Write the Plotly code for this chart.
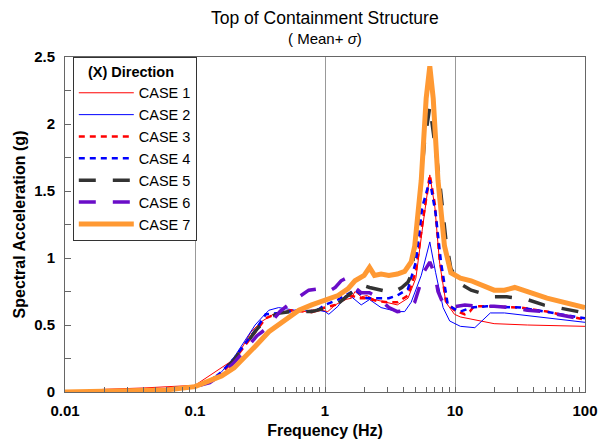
import plotly.graph_objects as go

# ---- data ----
case_names = ["CASE 1", "CASE 2", "CASE 3", "CASE 4", "CASE 5", "CASE 6", "CASE 7"]

f1 = [0.01, 0.02, 0.04, 0.07, 0.1, 0.19, 0.23, 0.27, 0.33, 0.4, 0.5, 0.63, 0.79, 0.94, 1.05, 1.2, 1.43, 1.6, 1.7, 1.9,
      2.1, 2.4, 2.9, 3.6, 4.35, 5.0, 5.6, 6.4, 7.0, 7.6, 8.5, 9.9, 11, 14.2, 20, 36, 60, 100]
a1 = [0.0, 0.02, 0.03, 0.04, 0.05, 0.23, 0.33, 0.45, 0.53, 0.58, 0.60, 0.61, 0.59, 0.61, 0.60, 0.65, 0.69, 0.70, 0.75, 0.71,
      0.72, 0.69, 0.67, 0.65, 0.70, 0.85, 1.21, 1.62, 1.38, 0.97, 0.67, 0.58, 0.56, 0.54, 0.51, 0.50, 0.495, 0.49]

f2 = [0.01, 0.03, 0.06, 0.1, 0.13, 0.16, 0.2, 0.25, 0.29, 0.33, 0.37, 0.44, 0.52, 0.59, 0.67, 0.75, 0.89, 1.0, 1.07, 1.26,
      1.43, 1.6, 1.9, 2.2, 2.7, 3.6, 4.1, 4.6, 5.5, 6.4, 7.1, 8.1, 9.1, 11, 14.2, 18.7, 24, 43, 100]
a2 = [0.0, 0.005, 0.02, 0.04, 0.08, 0.15, 0.26, 0.40, 0.50, 0.56, 0.61, 0.63, 0.62, 0.61, 0.62, 0.60, 0.61, 0.60, 0.58, 0.64,
      0.72, 0.71, 0.65, 0.69, 0.63, 0.60, 0.60, 0.67, 0.87, 1.12, 0.89, 0.63, 0.53, 0.49, 0.48, 0.59, 0.59, 0.56, 0.52]

f3 = [0.01, 0.03, 0.06, 0.1, 0.13, 0.16, 0.2, 0.25, 0.3, 0.35, 0.44, 0.55, 0.7, 0.85, 1.0, 1.2, 1.4, 1.6, 1.8, 2.1,
      2.5, 3.0, 3.6, 4.35, 5.0, 5.6, 6.4, 7.0, 7.6, 8.5, 9.9, 11.9, 13, 14, 17.6, 32, 51, 100]
a3 = [0.0, 0.005, 0.02, 0.04, 0.08, 0.14, 0.24, 0.36, 0.46, 0.55, 0.59, 0.61, 0.60, 0.61, 0.63, 0.65, 0.69, 0.72, 0.70, 0.70,
      0.68, 0.67, 0.67, 0.72, 0.90, 1.25, 1.62, 1.40, 1.00, 0.68, 0.61, 0.58, 0.60, 0.64, 0.64, 0.63, 0.60, 0.54]

f4 = [0.01, 0.03, 0.06, 0.1, 0.13, 0.16, 0.2, 0.25, 0.3, 0.35, 0.46, 0.6, 0.75, 0.9, 1.0, 1.26, 1.6, 1.7, 2.1, 2.6,
      3.1, 3.6, 4.35, 5.0, 5.6, 6.4, 7.1, 7.8, 8.8, 9.9, 11, 13.3, 17.6, 32, 58, 100]
a4 = [0.0, 0.005, 0.02, 0.04, 0.08, 0.15, 0.25, 0.38, 0.48, 0.58, 0.59, 0.61, 0.60, 0.62, 0.65, 0.69, 0.75, 0.76, 0.70, 0.70,
      0.70, 0.72, 0.77, 0.97, 1.38, 1.58, 1.33, 0.97, 0.65, 0.62, 0.60, 0.63, 0.64, 0.63, 0.59, 0.55]

f5 = [0.01, 0.03, 0.06, 0.1, 0.13, 0.16, 0.2, 0.25, 0.3, 0.36, 0.45, 0.55, 0.65, 0.79, 0.95, 1.07, 1.26, 1.5, 1.75, 1.9,
      2.2, 2.7, 3.3, 3.9, 4.35, 4.6, 5.2, 5.8, 6.4, 7.0, 7.6, 8.5, 9.3, 10.9, 13.3, 20, 25, 36, 48, 100]
a5 = [0.0, 0.005, 0.02, 0.04, 0.08, 0.14, 0.24, 0.37, 0.47, 0.55, 0.59, 0.60, 0.60, 0.60, 0.62, 0.64, 0.66, 0.72, 0.78, 0.80,
      0.78, 0.76, 0.74, 0.78, 0.82, 0.87, 1.29, 1.85, 2.13, 1.85, 1.58, 1.14, 0.92, 0.81, 0.76, 0.71, 0.71, 0.69, 0.65, 0.59]

f6 = [0.01, 0.03, 0.06, 0.1, 0.13, 0.16, 0.2, 0.25, 0.3, 0.35, 0.39, 0.45, 0.55, 0.65, 0.75, 0.89, 1.07, 1.2, 1.33, 1.46,
      1.6, 1.9, 2.2, 2.6, 3.1, 3.6, 4.3, 4.9, 5.3, 5.8, 6.4, 7.0, 7.4, 8.1, 9.0, 10, 11.9, 15, 20, 26.7, 36, 48, 70, 100]
a6 = [0.0, 0.005, 0.02, 0.04, 0.07, 0.13, 0.22, 0.33, 0.42, 0.47, 0.53, 0.60, 0.67, 0.72, 0.76, 0.77, 0.75, 0.78, 0.83, 0.85,
      0.80, 0.74, 0.74, 0.70, 0.63, 0.60, 0.61, 0.67, 0.77, 0.90, 0.97, 0.88, 0.75, 0.66, 0.63, 0.64, 0.65, 0.64, 0.64, 0.63,
      0.61, 0.60, 0.57, 0.54]

f7 = [0.01, 0.03, 0.06, 0.1, 0.13, 0.16, 0.2, 0.25, 0.29, 0.37, 0.44, 0.53, 0.63, 0.79, 1.0, 1.26, 1.5, 1.7, 2.0, 2.2,
      2.4, 2.7, 3.1, 3.6, 4.1, 4.6, 4.9, 5.5, 6.0, 6.4, 6.8, 7.4, 8.3, 9.3, 11, 13.3, 20, 24, 28.8, 35.8, 51, 100]
a7 = [0.0, 0.005, 0.015, 0.04, 0.08, 0.12, 0.18, 0.27, 0.34, 0.45, 0.50, 0.56, 0.61, 0.65, 0.69, 0.72, 0.77, 0.83, 0.87, 0.93,
      0.87, 0.88, 0.87, 0.88, 0.90, 0.97, 1.09, 1.58, 2.19, 2.43, 2.19, 1.58, 1.09, 0.89, 0.85, 0.83, 0.76, 0.76, 0.78, 0.75,
      0.70, 0.63]

x_tickvals = [0.01, 0.1, 1, 10, 100]
x_ticktext = ["0.01", "0.1", "1", "10", "100"]
y_tickvals = [0, 0.5, 1, 1.5, 2, 2.5]
y_ticktext = ["0", "0.5", "1", "1.5", "2", "2.5"]

freqs = [f1, f2, f3, f4, f5, f6, f7]
accs = [a1, a2, a3, a4, a5, a6, a7]
styles = [
    dict(color="#ff0000", width=1, dash="solid"),
    dict(color="#0000ff", width=1, dash="solid"),
    dict(color="#ff0000", width=2.5, dash="6px,5px"),
    dict(color="#0000ff", width=2.5, dash="6px,5px"),
    dict(color="#333333", width=3.5, dash="17px,17px"),
    dict(color="#6a0dc8", width=3.5, dash="17px,17px"),
    dict(color="#ff9933", width=5, dash="solid"),
]

FONT = "Arial, Liberation Sans, sans-serif"

fig = go.Figure()
for name, fx, ay, st in zip(case_names, freqs, accs, styles):
    fig.add_trace(go.Scatter(x=fx, y=ay, mode="lines", name=name, line=st))

minor_x = [m * 10 ** e for e in range(-2, 2) for m in range(2, 10)]

fig.update_layout(
    width=610, height=448,
    margin=dict(l=65, r=22, t=57, b=49),
    paper_bgcolor="white", plot_bgcolor="white",
    font=dict(family=FONT, color="black"),
    showlegend=True,
    legend=dict(
        x=0.015, y=1.0, xanchor="left", yanchor="top",
        bgcolor="white", bordercolor="#333333", borderwidth=1,
        font=dict(size=14.5, family=FONT),
        title=dict(text="<b>   (X) Direction</b>", font=dict(size=14.5, family=FONT)),
        tracegroupgap=0, itemwidth=55,
    ),
    annotations=[
        dict(text="Top of Containment Structure", xref="paper", yref="paper",
             x=0.5, y=1, yshift=39, showarrow=False, font=dict(size=17.5, family=FONT),
             xanchor="center", yanchor="middle"),
        dict(text="( Mean+ <i>σ</i>)", xref="paper", yref="paper",
             x=0.5, y=1, yshift=19, showarrow=False, font=dict(size=15, family=FONT),
             xanchor="center", yanchor="middle"),
    ],
)

fig.update_xaxes(
    type="log", range=[-2, 2],
    tickvals=x_tickvals, ticktext=x_ticktext,
    ticks="inside", ticklen=5, tickcolor="#666666",
    tickfont=dict(size=15, family=FONT, weight="bold"),
    showgrid=True, gridcolor="#999999", gridwidth=1,
    showline=True, linecolor="#666666", linewidth=1, mirror=True,
    zeroline=False,
    minor=dict(tickvals=minor_x, ticks="inside", ticklen=5, tickcolor="#666666", showgrid=False),
    title=dict(text="<b>Frequency (Hz)</b>", font=dict(size=16, family=FONT), standoff=6),
    ticklabelstandoff=5,
)
fig.update_yaxes(
    range=[0, 2.5],
    tickvals=y_tickvals, ticktext=y_ticktext,
    ticks="inside", ticklen=6, tickcolor="#666666",
    tickfont=dict(size=15, family=FONT, weight="bold"),
    showgrid=False,
    showline=True, linecolor="#666666", linewidth=1, mirror=True,
    zeroline=False,
    minor=dict(dtick=0.25, ticks="inside", ticklen=6, tickcolor="#666666", showgrid=False),
    title=dict(text="<b>Spectral Acceleration (g)</b>", font=dict(size=16, family=FONT), standoff=4),
    ticklabelstandoff=6,
)

fig.write_html("out.html")
